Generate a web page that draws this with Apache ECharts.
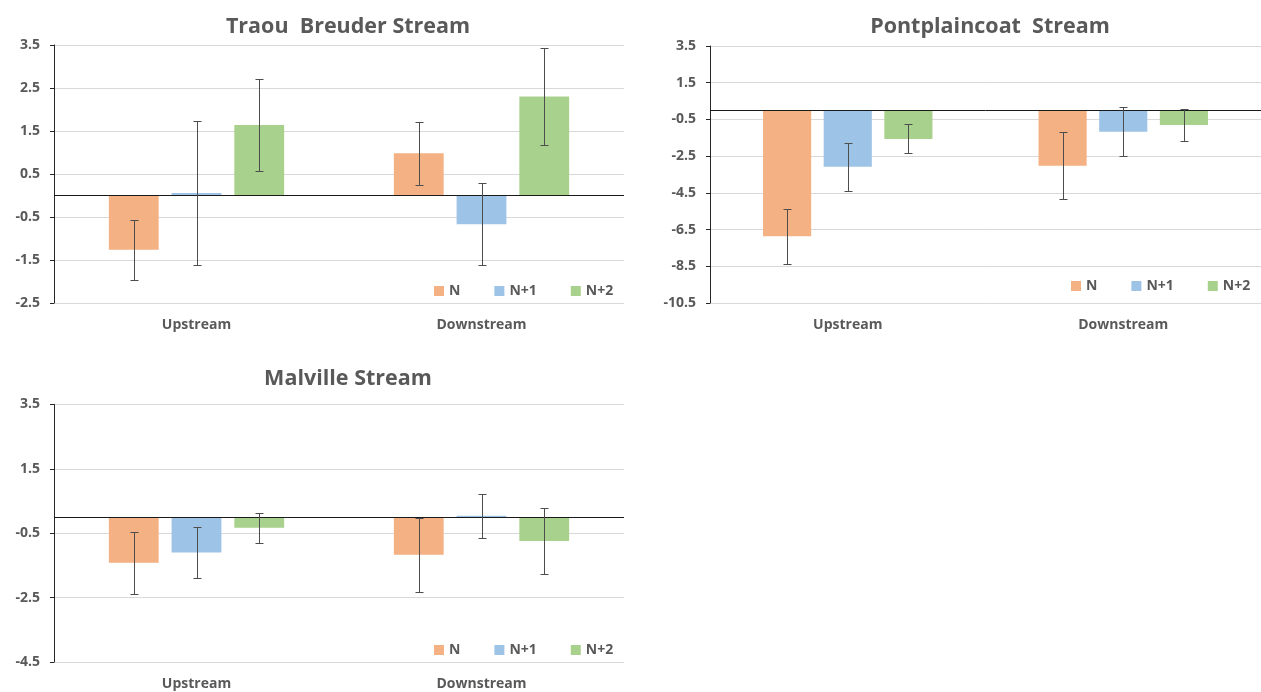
<!DOCTYPE html>
<html>
<head>
<meta charset="utf-8">
<script src="https://cdn.jsdelivr.net/npm/echarts@6/dist/echarts.min.js"></script>
<style>
html,body{margin:0;padding:0;background:#fff;}
#c{width:1261px;height:692px;}
</style>
</head>
<body>
<div id="c"></div>
<script>
// ---- data ----
const categories = ['Upstream', 'Downstream'];
const seriesNames = ['N', 'N+1', 'N+2'];
const chartTitles = ['Traou  Breuder Stream', 'Pontplaincoat  Stream', 'Malville Stream'];

// Traou Breuder Stream
const traouN   = [-1.26, 0.98];
const traouN1  = [0.06, -0.67];
const traouN2  = [1.64, 2.30];
const traouErrN  = [0.70, 0.74];
const traouErrN1 = [1.68, 0.95];
const traouErrN2 = [1.06, 1.12];
const traouTicks = [-2.5, -1.5, -0.5, 0.5, 1.5, 2.5, 3.5];

// Pontplaincoat Stream
const pontN   = [-6.87, -3.02];
const pontN1  = [-3.08, -1.17];
const pontN2  = [-1.56, -0.80];
const pontErrN  = [1.49, 1.81];
const pontErrN1 = [1.30, 1.33];
const pontErrN2 = [0.79, 0.85];
const pontTicks = [-10.5, -8.5, -6.5, -4.5, -2.5, -0.5, 1.5, 3.5];

// Malville Stream
const malN   = [-1.42, -1.17];
const malN1  = [-1.10, 0.04];
const malN2  = [-0.33, -0.74];
const malErrN  = [0.96, 1.14];
const malErrN1 = [0.79, 0.68];
const malErrN2 = [0.47, 1.02];
const malTicks = [-4.5, -2.5, -0.5, 1.5, 3.5];

// ---- style ----
const colors = ['#f4b183', '#9dc3e6', '#a9d18e'];
const CAT_GAP = 0.385;
const BAR_GAP = 0.26;
const FONT = '"Open Sans", sans-serif';
const TXT = '#595959';

const panels = [
  {vals: [traouN, traouN1, traouN2], errs: [traouErrN, traouErrN1, traouErrN2], ticks: traouTicks,
   grid: {left: 54, right: 637, top: 45, height: 258}, title: [348, 27], legend: {left: 434, top: 284}},
  {vals: [pontN, pontN1, pontN2], errs: [pontErrN, pontErrN1, pontErrN2], ticks: pontTicks,
   grid: {left: 710, right: -9, top: 46, height: 257}, title: [990, 27], legend: {left: 1071, top: 279}},
  {vals: [malN, malN1, malN2], errs: [malErrN, malErrN1, malErrN2], ticks: malTicks,
   grid: {left: 54, right: 637, top: 404.5, height: 257.5}, title: [348, 379], legend: {left: 434, top: 643}}
];

function errRender(k) {
  return function (params, api) {
    const cat = api.value(0), v = api.value(1), e = api.value(2);
    const band = api.size([1, 0])[0];
    const bw = band * (1 - CAT_GAP) / (3 + 2 * BAR_GAP);
    const off = (k - 1) * bw * (1 + BAR_GAP);
    const p1 = api.coord([cat, v + e]);
    const p2 = api.coord([cat, v - e]);
    const x = Math.round(p1[0] + off) + 0.5;
    const y1 = Math.round(p1[1]) + 0.5, y2 = Math.round(p2[1]) + 0.5;
    const cap = 4;
    const st = {stroke: '#4d4d4d', lineWidth: 1};
    return {type: 'group', children: [
      {type: 'line', shape: {x1: x, y1: y1, x2: x, y2: y2}, style: st},
      {type: 'line', shape: {x1: x - cap, y1: y1, x2: x + cap, y2: y1}, style: st},
      {type: 'line', shape: {x1: x - cap, y1: y2, x2: x + cap, y2: y2}, style: st}
    ]};
  };
}

const grids = [], xAxes = [], yAxes = [], series = [], legends = [], graphics = [];
panels.forEach((p, gi) => {
  grids.push(Object.assign({containLabel: false}, p.grid));
  xAxes.push({
    type: 'category', gridIndex: gi, data: categories,
    axisLine: {show: false}, axisTick: {show: false},
    axisLabel: {color: TXT, fontFamily: FONT, fontWeight: 'bold', fontSize: 14, margin: 15},
    splitLine: {show: false}
  });
  const t = p.ticks;
  yAxes.push({
    type: 'value', gridIndex: gi, min: t[0], max: t[t.length - 1], interval: t[1] - t[0],
    axisLine: {show: true, onZero: false, lineStyle: {color: '#262626', width: 1}},
    axisTick: {show: true, length: 4, lineStyle: {color: '#262626'}},
    axisLabel: {color: TXT, fontFamily: FONT, fontWeight: 'bold', fontSize: 14, margin: 14,
      formatter: v => v.toFixed(1)},
    splitLine: {show: true, lineStyle: {color: '#d9d9d9', width: 1}}
  });
  seriesNames.forEach((name, k) => {
    const s = {
      type: 'bar', name: name, xAxisIndex: gi, yAxisIndex: gi,
      data: p.vals[k], barCategoryGap: (CAT_GAP * 100) + '%', barGap: (BAR_GAP * 100) + '%',
      itemStyle: {color: colors[k]}, emphasis: {disabled: true}, z: 2
    };
    if (k === 0) {
      s.markLine = {silent: true, symbol: 'none', label: {show: false}, animation: false,
        lineStyle: {color: '#1a1a1a', width: 1, type: 'solid'}, emphasis: {disabled: true},
        data: [{yAxis: 0}], z: 4};
    }
    series.push(s);
  });
  seriesNames.forEach((name, k) => {
    series.push({
      type: 'custom', name: name + ' err', xAxisIndex: gi, yAxisIndex: gi, z: 5, silent: true,
      renderItem: errRender(k),
      data: categories.map((c, i) => [i, p.vals[k][i], p.errs[k][i]])
    });
  });
  legends.push({
    left: p.legend.left, top: p.legend.top, padding: 0, itemWidth: 10, itemHeight: 10, itemGap: 34,
    icon: 'rect', data: seriesNames, selectedMode: false,
    textStyle: {color: TXT, fontFamily: FONT, fontWeight: 'bold', fontSize: 14}
  });
  graphics.push({
    type: 'text', x: p.title[0], y: p.title[1], silent: true,
    style: {text: chartTitles[gi], fill: TXT, font: 'bold 21.5px ' + FONT, textAlign: 'center', textVerticalAlign: 'middle'}
  });
});

const chart = echarts.init(document.getElementById('c'), null, {renderer: 'canvas'});
chart.setOption({
  animation: false,
  backgroundColor: '#ffffff',
  color: colors,
  grid: grids, xAxis: xAxes, yAxis: yAxes, series: series, legend: legends, graphic: graphics
});
</script>
</body>
</html>
